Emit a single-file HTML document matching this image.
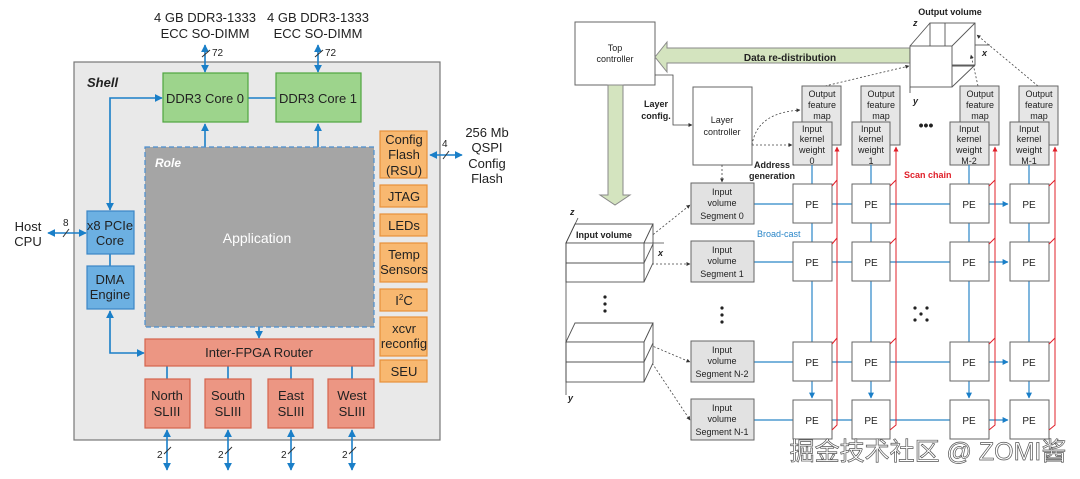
<!DOCTYPE html>
<html><head><meta charset="utf-8"><style>
html,body{margin:0;padding:0;background:#fff;}
svg{display:block;font-family:"Liberation Sans",Arial,sans-serif;}
</style></head><body>
<svg width="1080" height="479" viewBox="0 0 1080 479" xmlns="http://www.w3.org/2000/svg">
<defs>
<marker id="ab" viewBox="0 0 10 10" refX="9" refY="5" markerWidth="5" markerHeight="5" orient="auto-start-reverse"><path d="M0,0L10,5L0,10z" fill="#1a7fc8"/></marker>
<marker id="ak" viewBox="0 0 10 10" refX="9" refY="5" markerWidth="5" markerHeight="5" orient="auto-start-reverse"><path d="M0,0L10,5L0,10z" fill="#333"/></marker>
<marker id="ar" viewBox="0 0 10 10" refX="9" refY="5" markerWidth="5" markerHeight="5" orient="auto"><path d="M0,0L10,5L0,10z" fill="#e0202a"/></marker>
</defs>
<!-- LEFT -->
<g font-size="13" fill="#222" text-anchor="middle">
<text x="205" y="22">4 GB DDR3-1333</text><text x="205" y="38">ECC SO-DIMM</text>
<text x="318" y="22">4 GB DDR3-1333</text><text x="318" y="38">ECC SO-DIMM</text>
</g>
<rect x="74" y="62" width="366" height="378" fill="#e9e9e9" stroke="#777" stroke-width="1.2"/>
<text x="87" y="87" font-size="13" font-weight="bold" font-style="italic" fill="#222">Shell</text>
<g stroke="#1a7fc8" stroke-width="1.6" fill="none">
<line x1="205" y1="45" x2="205" y2="72" marker-start="url(#ab)" marker-end="url(#ab)"/>
<line x1="318" y1="45" x2="318" y2="72" marker-start="url(#ab)" marker-end="url(#ab)"/>
<line x1="248" y1="98" x2="276" y2="98"/>
<polyline points="110,210 110,98 162,98" marker-start="url(#ab)" marker-end="url(#ab)"/>
<line x1="205" y1="124" x2="205" y2="156" marker-start="url(#ab)" marker-end="url(#ab)"/>
<line x1="318" y1="124" x2="318" y2="156" marker-start="url(#ab)" marker-end="url(#ab)"/>
<line x1="48" y1="233" x2="86" y2="233" marker-start="url(#ab)" marker-end="url(#ab)"/>
<line x1="110" y1="254" x2="110" y2="266"/>
<polyline points="110,311 110,353 144,353" marker-start="url(#ab)" marker-end="url(#ab)"/>
<line x1="259" y1="305" x2="259" y2="338" marker-start="url(#ab)" marker-end="url(#ab)"/>
<line x1="430" y1="155" x2="462" y2="155" marker-start="url(#ab)" marker-end="url(#ab)"/>
<line x1="167" y1="366" x2="167" y2="379"/><line x1="228" y1="366" x2="228" y2="379"/>
<line x1="291" y1="366" x2="291" y2="379"/><line x1="352" y1="366" x2="352" y2="379"/>
<line x1="167" y1="430" x2="167" y2="470" marker-start="url(#ab)" marker-end="url(#ab)"/>
<line x1="228" y1="430" x2="228" y2="470" marker-start="url(#ab)" marker-end="url(#ab)"/>
<line x1="291" y1="430" x2="291" y2="470" marker-start="url(#ab)" marker-end="url(#ab)"/>
<line x1="352" y1="430" x2="352" y2="470" marker-start="url(#ab)" marker-end="url(#ab)"/>
</g>
<g stroke="#333" stroke-width="1">
<line x1="202" y1="57" x2="210" y2="50"/><line x1="315" y1="57" x2="323" y2="50"/>
<line x1="63" y1="237" x2="69" y2="229"/><line x1="443" y1="159" x2="449" y2="151"/>
<line x1="164" y1="454" x2="171" y2="447"/><line x1="225" y1="454" x2="232" y2="447"/>
<line x1="288" y1="454" x2="295" y2="447"/><line x1="349" y1="454" x2="356" y2="447"/>
</g>
<g font-size="10" fill="#222"><text x="212" y="56">72</text><text x="325" y="56">72</text><text x="63" y="226">8</text><text x="442" y="147">4</text>
<text x="157" y="458">2</text><text x="218" y="458">2</text><text x="281" y="458">2</text><text x="342" y="458">2</text></g>
<g font-size="13" fill="#222" text-anchor="middle"><text x="28" y="231">Host</text><text x="28" y="246">CPU</text>
<text x="487" y="137">256 Mb</text><text x="487" y="152">QSPI</text><text x="487" y="168">Config</text><text x="487" y="183">Flash</text></g>
<g stroke-width="1.2">
<rect x="163" y="73" width="85" height="49" fill="#9dd48c" stroke="#4fa63f"/>
<rect x="276" y="73" width="85" height="49" fill="#9dd48c" stroke="#4fa63f"/>
<rect x="145" y="147" width="229" height="180" fill="#a5a5a5" stroke="#4a8fd0" stroke-dasharray="5,3"/>
<rect x="87" y="211" width="47" height="43" fill="#6cb0e2" stroke="#3a86c6"/>
<rect x="87" y="266" width="47" height="43" fill="#6cb0e2" stroke="#3a86c6"/>
<rect x="145" y="339" width="229" height="27" fill="#ec9683" stroke="#d5644d"/>
<rect x="145" y="379" width="45" height="49" fill="#ec9683" stroke="#d5644d"/>
<rect x="205" y="379" width="46" height="49" fill="#ec9683" stroke="#d5644d"/>
<rect x="268" y="379" width="45" height="49" fill="#ec9683" stroke="#d5644d"/>
<rect x="328" y="379" width="46" height="49" fill="#ec9683" stroke="#d5644d"/>
<g fill="#f8b870" stroke="#e8913a">
<rect x="380" y="131" width="47" height="47"/><rect x="380" y="185" width="47" height="22"/>
<rect x="380" y="214" width="47" height="22"/><rect x="380" y="243" width="47" height="39"/>
<rect x="380" y="289" width="47" height="22"/><rect x="380" y="317" width="47" height="39"/>
<rect x="380" y="360" width="47" height="22"/></g>
</g>
<text x="155" y="167" font-size="12" font-weight="bold" font-style="italic" fill="#fff">Role</text>
<text x="257" y="243" font-size="14" fill="#fff" text-anchor="middle">Application</text>
<g font-size="13" fill="#222" text-anchor="middle">
<text x="205" y="103">DDR3 Core 0</text><text x="318" y="103">DDR3 Core 1</text>
<text x="110" y="230">x8 PCIe</text><text x="110" y="245">Core</text>
<text x="110" y="284">DMA</text><text x="110" y="299">Engine</text>
<text x="259" y="357">Inter-FPGA Router</text>
<text x="167" y="400">North</text><text x="167" y="416">SLIII</text>
<text x="228" y="400">South</text><text x="228" y="416">SLIII</text>
<text x="291" y="400">East</text><text x="291" y="416">SLIII</text>
<text x="352" y="400">West</text><text x="352" y="416">SLIII</text>
<text x="404" y="144">Config</text><text x="404" y="159">Flash</text><text x="404" y="175">(RSU)</text>
<text x="404" y="201">JTAG</text><text x="404" y="230">LEDs</text>
<text x="404" y="259">Temp</text><text x="404" y="274">Sensors</text>
<text x="404" y="305">I<tspan font-size="8" dy="-5">2</tspan><tspan dy="5">C</tspan></text>
<text x="404" y="333">xcvr</text><text x="404" y="348">reconfig</text>
<text x="404" y="376">SEU</text>
</g>
<!-- RIGHT -->
<rect x="575" y="22" width="80" height="63" fill="#fff" stroke="#666"/>
<text x="615" y="51" font-size="9" text-anchor="middle" fill="#222">Top</text><text x="615" y="62" font-size="9" text-anchor="middle" fill="#222">controller</text>
<path d="M655,57 L667,42 L667,48 L910,48 L910,63 L667,63 L667,72 Z" fill="#d4e4bf" stroke="#888"/>
<text x="790" y="61" font-size="10" font-weight="bold" text-anchor="middle" fill="#222">Data re-distribution</text>
<path d="M608,85 L623,85 L623,195 L630,195 L615,205 L600,195 L608,195 Z" fill="#d4e4bf" stroke="#888"/>
<polyline points="655,75 673,75 673,125 692,125" fill="none" stroke="#444" stroke-width="0.8" marker-end="url(#ak)"/>
<text x="656" y="107" font-size="9" font-weight="bold" text-anchor="middle" fill="#222">Layer</text><text x="656" y="119" font-size="9" font-weight="bold" text-anchor="middle" fill="#222">config.</text>
<rect x="693" y="87" width="59" height="78" fill="#fff" stroke="#666"/>
<text x="722" y="123" font-size="9" text-anchor="middle" fill="#222">Layer</text><text x="722" y="135" font-size="9" text-anchor="middle" fill="#222">controller</text>
<text x="772" y="168" font-size="9" font-weight="bold" text-anchor="middle" fill="#222">Address</text><text x="772" y="179" font-size="9" font-weight="bold" text-anchor="middle" fill="#222">generation</text>
<g fill="none" stroke="#444" stroke-width="0.8" stroke-dasharray="2,2">
<path d="M752,145 C756,120 775,112 800,110" marker-end="url(#ak)"/>
<line x1="752" y1="145" x2="792" y2="145" marker-end="url(#ak)"/>
<line x1="722" y1="165" x2="722" y2="182" marker-end="url(#ak)"/>
<line x1="825" y1="86" x2="909" y2="66" marker-end="url(#ak)"/>
<line x1="978" y1="86" x2="971" y2="55" marker-end="url(#ak)"/>
<line x1="1038" y1="86" x2="977" y2="35" marker-end="url(#ak)"/>
<line x1="650" y1="237" x2="690" y2="205" marker-end="url(#ak)"/>
<line x1="652" y1="264" x2="690" y2="264" marker-end="url(#ak)"/>
<line x1="650" y1="345" x2="690" y2="362" marker-end="url(#ak)"/>
<line x1="650" y1="360" x2="690" y2="420" marker-end="url(#ak)"/>
</g>
<!-- output cube -->
<g fill="none" stroke="#555" stroke-width="0.9">
<rect x="930" y="23" width="45" height="42"/>
<line x1="910" y1="46" x2="930" y2="23"/><line x1="952" y1="46" x2="975" y2="23"/><line x1="952" y1="87" x2="975" y2="65"/>
<line x1="945" y1="23" x2="945" y2="46"/><line x1="952" y1="66" x2="975" y2="66"/>
<line x1="910" y1="87" x2="910" y2="93"/><line x1="975" y1="45" x2="990" y2="45"/>
</g>
<rect x="910" y="46" width="42" height="41" fill="#fff" stroke="#555" stroke-width="0.9"/>
<text x="950" y="15" font-size="9" font-weight="bold" text-anchor="middle" fill="#222">Output volume</text>
<text x="913" y="26" font-size="9" font-weight="bold" font-style="italic" fill="#222">z</text>
<text x="982" y="56" font-size="9" font-weight="bold" font-style="italic" fill="#222">x</text>
<text x="913" y="104" font-size="9" font-weight="bold" font-style="italic" fill="#222">y</text>
<text x="926" y="130" font-size="14" font-weight="bold" text-anchor="middle" fill="#222">•••</text>
<!-- columns -->
<g font-size="9" fill="#222" text-anchor="middle">
<g transform="translate(0,0)">
<rect x="802" y="86" width="39" height="59" fill="#e6e6e6" stroke="#666"/><text x="822" y="97">Output</text><text x="822" y="108">feature</text><text x="822" y="119">map</text>
<rect x="793" y="122" width="39" height="43" fill="#e6e6e6" stroke="#666"/><text x="812" y="132">Input</text><text x="812" y="142">kernel</text><text x="812" y="153">weight</text><text x="812" y="164">0</text></g>
<rect x="861" y="86" width="39" height="59" fill="#e6e6e6" stroke="#666"/><text x="881" y="97">Output</text><text x="881" y="108">feature</text><text x="881" y="119">map</text>
<rect x="852" y="122" width="38" height="43" fill="#e6e6e6" stroke="#666"/><text x="871" y="132">Input</text><text x="871" y="142">kernel</text><text x="871" y="153">weight</text><text x="871" y="164">1</text>
<rect x="960" y="86" width="39" height="59" fill="#e6e6e6" stroke="#666"/><text x="980" y="97">Output</text><text x="980" y="108">feature</text><text x="980" y="119">map</text>
<rect x="950" y="122" width="39" height="43" fill="#e6e6e6" stroke="#666"/><text x="969" y="132">Input</text><text x="969" y="142">kernel</text><text x="969" y="153">weight</text><text x="969" y="164">M-2</text>
<rect x="1019" y="86" width="39" height="59" fill="#e6e6e6" stroke="#666"/><text x="1039" y="97">Output</text><text x="1039" y="108">feature</text><text x="1039" y="119">map</text>
<rect x="1010" y="122" width="39" height="43" fill="#e6e6e6" stroke="#666"/><text x="1029" y="132">Input</text><text x="1029" y="142">kernel</text><text x="1029" y="153">weight</text><text x="1029" y="164">M-1</text>
</g>
<!-- blue lines -->
<g stroke="#2a86c8" stroke-width="1.2" fill="none">
<line x1="812" y1="165" x2="812" y2="398" marker-end="url(#ab)"/>
<line x1="871" y1="165" x2="871" y2="398" marker-end="url(#ab)"/>
<line x1="969" y1="165" x2="969" y2="398" marker-end="url(#ab)"/>
<line x1="1029" y1="165" x2="1029" y2="398" marker-end="url(#ab)"/>
<line x1="754" y1="204" x2="1008" y2="204" marker-end="url(#ab)"/>
<line x1="754" y1="262" x2="1008" y2="262" marker-end="url(#ab)"/>
<line x1="754" y1="362" x2="1008" y2="362" marker-end="url(#ab)"/>
<line x1="754" y1="420" x2="1008" y2="420" marker-end="url(#ab)"/>
</g>
<!-- PEs -->
<g fill="#fff" stroke="#666">
<rect x="793" y="184" width="39" height="39"/><rect x="852" y="184" width="38" height="39"/><rect x="950" y="184" width="39" height="39"/><rect x="1010" y="184" width="39" height="39"/>
<rect x="793" y="242" width="39" height="39"/><rect x="852" y="242" width="38" height="39"/><rect x="950" y="242" width="39" height="39"/><rect x="1010" y="242" width="39" height="39"/>
<rect x="793" y="342" width="39" height="39"/><rect x="852" y="342" width="38" height="39"/><rect x="950" y="342" width="39" height="39"/><rect x="1010" y="342" width="39" height="39"/>
<rect x="793" y="400" width="39" height="39"/><rect x="852" y="400" width="38" height="39"/><rect x="950" y="400" width="39" height="39"/><rect x="1010" y="400" width="39" height="39"/>
</g>
<g font-size="10" fill="#222" text-anchor="middle">
<text x="812" y="208">PE</text><text x="871" y="208">PE</text><text x="969" y="208">PE</text><text x="1029" y="208">PE</text>
<text x="812" y="266">PE</text><text x="871" y="266">PE</text><text x="969" y="266">PE</text><text x="1029" y="266">PE</text>
<text x="812" y="366">PE</text><text x="871" y="366">PE</text><text x="969" y="366">PE</text><text x="1029" y="366">PE</text>
<text x="812" y="424">PE</text><text x="871" y="424">PE</text><text x="969" y="424">PE</text><text x="1029" y="424">PE</text>
</g>
<!-- red scan -->
<g stroke="#e0202a" stroke-width="1" fill="none">
<polyline points="832,430 837,425 837,147" marker-end="url(#ar)"/>
<polyline points="890,430 896,425 896,147" marker-end="url(#ar)"/>
<polyline points="989,430 995,425 995,147" marker-end="url(#ar)"/>
<polyline points="1049,430 1055,425 1055,147" marker-end="url(#ar)"/>
<path d="M832,186 L837,180 M890,186 L896,180 M989,186 L995,180 M1049,186 L1055,180 M832,244 L837,238 M890,244 L896,238 M989,244 L995,238 M1049,244 L1055,238 M832,344 L837,338 M890,344 L896,338 M989,344 L995,338 M1049,344 L1055,338"/>
</g>
<text x="904" y="178" font-size="9" font-weight="bold" fill="#e0202a">Scan chain</text>
<text x="757" y="237" font-size="9" fill="#2a86c8">Broad-cast</text>
<!-- input segments -->
<g fill="#e2e2e2" stroke="#666">
<rect x="691" y="183" width="63" height="41"/><rect x="691" y="241" width="63" height="41"/>
<rect x="691" y="341" width="63" height="41"/><rect x="691" y="399" width="63" height="41"/></g>
<g font-size="9" fill="#222" text-anchor="middle">
<text x="722" y="195">Input</text><text x="722" y="206">volume</text><text x="722" y="219">Segment 0</text>
<text x="722" y="253">Input</text><text x="722" y="264">volume</text><text x="722" y="277">Segment 1</text>
<text x="722" y="353">Input</text><text x="722" y="364">volume</text><text x="722" y="377">Segment N-2</text>
<text x="722" y="411">Input</text><text x="722" y="422">volume</text><text x="722" y="435">Segment N-1</text>
</g>
<g fill="#222"><circle cx="722" cy="308" r="1.6"/><circle cx="722" cy="315" r="1.6"/><circle cx="722" cy="322" r="1.6"/>
<circle cx="605" cy="297" r="1.6"/><circle cx="605" cy="304" r="1.6"/><circle cx="605" cy="311" r="1.6"/>
<circle cx="915" cy="308" r="1.6"/><circle cx="927" cy="308" r="1.6"/><circle cx="921" cy="314" r="1.6"/><circle cx="915" cy="320" r="1.6"/><circle cx="927" cy="320" r="1.6"/></g>
<!-- input volume slabs -->
<g fill="#fff" stroke="#555" stroke-width="0.9">
<path d="M566,243 L575,224 L653,224 L644,243 Z"/><path d="M644,243 L653,224 L653,263 L644,282 Z"/>
<rect x="566" y="243" width="78" height="39"/><line x1="566" y1="263" x2="644" y2="263"/><line x1="644" y1="263" x2="653" y2="244"/>
<path d="M566,342 L575,323 L653,323 L644,342 Z"/><path d="M644,342 L653,323 L653,363 L644,382 Z"/>
<rect x="566" y="342" width="78" height="40"/><line x1="566" y1="362" x2="644" y2="362"/><line x1="644" y1="362" x2="653" y2="343"/>
</g>
<g stroke="#444" stroke-width="0.8"><line x1="566" y1="243" x2="566" y2="395"/><line x1="566" y1="243" x2="578" y2="218"/><line x1="644" y1="243" x2="664" y2="243"/></g>
<text x="604" y="238" font-size="9" font-weight="bold" text-anchor="middle" fill="#222">Input volume</text>
<text x="570" y="215" font-size="9" font-weight="bold" font-style="italic" fill="#222">z</text>
<text x="658" y="256" font-size="9" font-weight="bold" font-style="italic" fill="#222">x</text>
<text x="568" y="401" font-size="9" font-weight="bold" font-style="italic" fill="#222">y</text>
<!-- watermark -->
<text x="928" y="460" font-size="25" text-anchor="middle" fill="#fff" stroke="#555" stroke-width="0.7" font-family="'Liberation Sans','Noto Sans CJK SC',sans-serif">掘金技术社区 @ ZOMI酱</text>
</svg>
</body></html>
